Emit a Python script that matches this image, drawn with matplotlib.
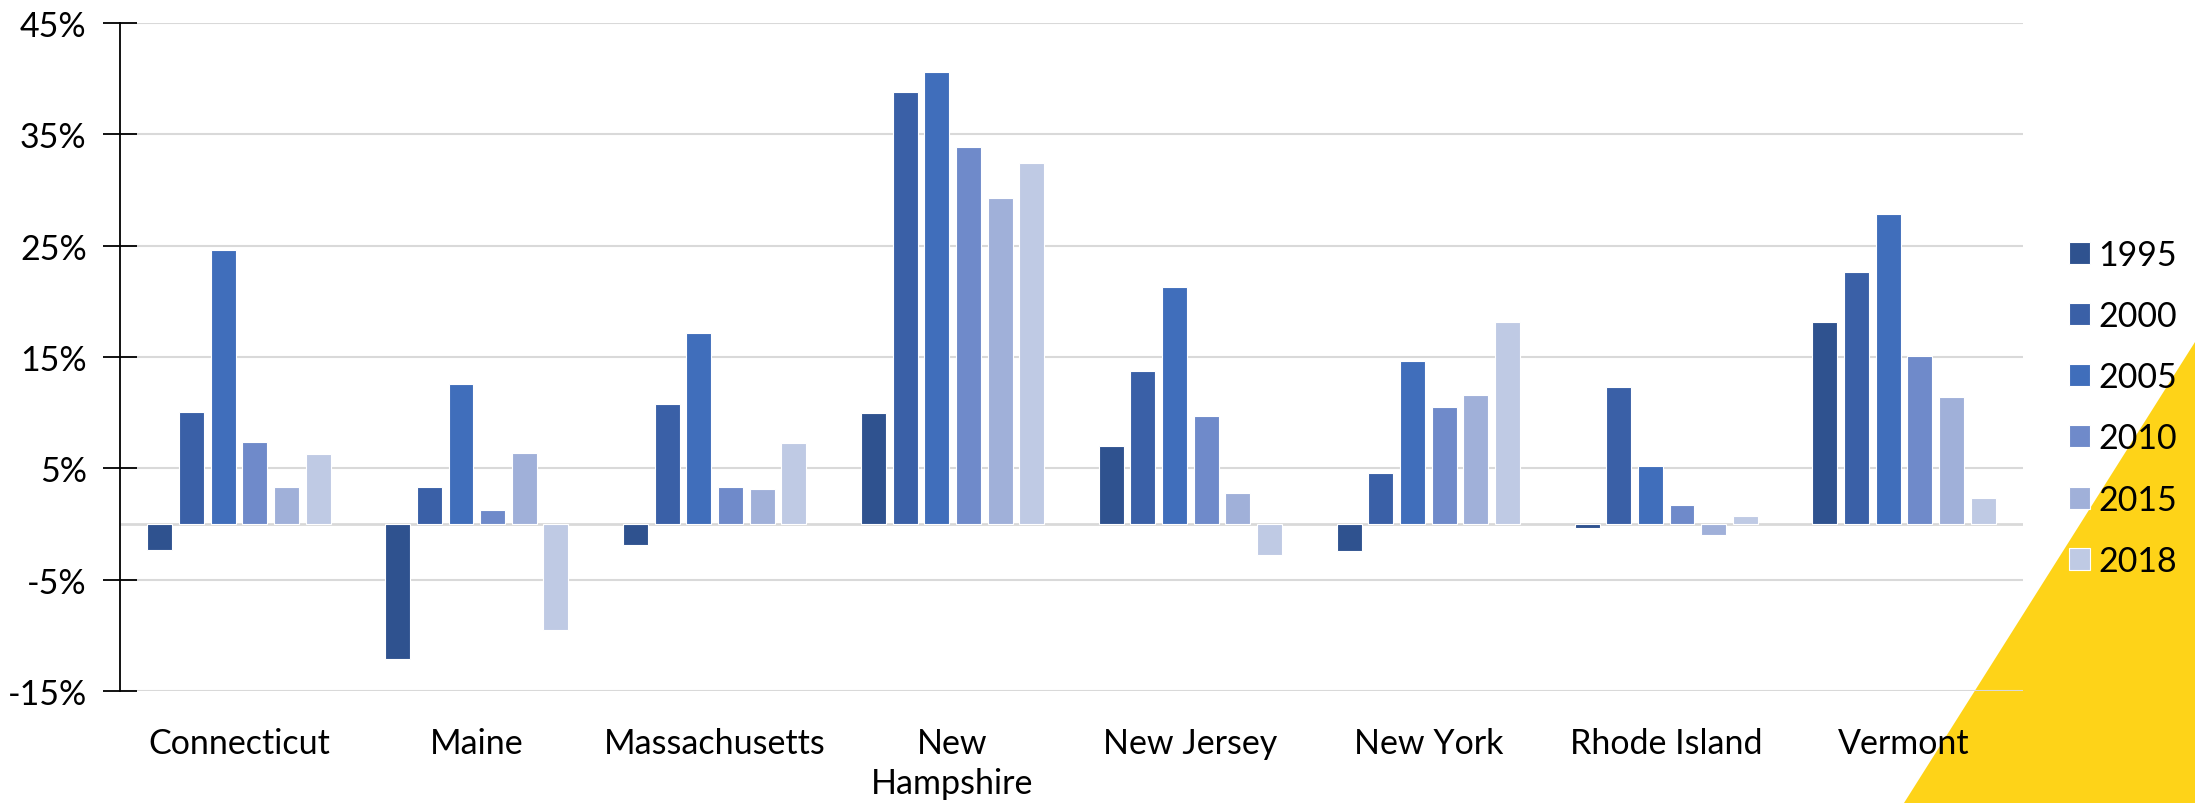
import numpy as np
import matplotlib
matplotlib.use("Agg")
from matplotlib import pyplot as plt
from matplotlib.patches import Polygon

plt.rcParams['font.family'] = ['Lato', 'DejaVu Sans']

states = ["Connecticut", "Maine", "Massachusetts", "New\nHampshire",
          "New Jersey", "New York", "Rhode Island", "Vermont"]
years = ["1995", "2000", "2005", "2010", "2015", "2018"]

# percent change per state, one list per year
v1995 = [-2.3, -12.1, -1.9, 10.0, 7.0, -2.4, -0.4, 18.1]
v2000 = [10.1, 3.3, 10.8, 38.8, 13.7, 4.6, 12.3, 22.6]
v2005 = [24.6, 12.6, 17.2, 40.6, 21.3, 14.6, 5.2, 27.8]
v2010 = [7.4, 1.3, 3.3, 33.9, 9.7, 10.5, 1.7, 15.1]
v2015 = [3.3, 6.4, 3.1, 29.3, 2.8, 11.6, -1.0, 11.4]
v2018 = [6.3, -9.5, 7.3, 32.4, -2.8, 18.1, 0.7, 2.3]

kolory = ["#2F528F", "#3A60A7", "#406EBB", "#6F8ACA", "#A0B0D9", "#BFCAE4"]

yticks = [-15, -5, 5, 15, 25, 35, 45]


def main():
    fig = plt.figure(figsize=(21.95, 8.04), dpi=100)

    # yellow corner in the bottom right, in its own axes behind everything
    tlo = fig.add_axes([0, 0, 1, 1], zorder=-10)
    tlo.set_xlim(0, 1)
    tlo.set_ylim(0, 1)
    tlo.axis("off")
    tlo.add_patch(Polygon([(1904 / 2195, 0), (1, 0), (1, 1 - 343 / 804)],
                          closed=True, facecolor="#FED318", edgecolor="none"))

    ax = fig.add_axes([120 / 2195, 1 - 692 / 804, (2023 - 120) / 2195, (692 - 24) / 804])
    ax.set_facecolor("none")

    serie = [v1995, v2000, v2005, v2010, v2015, v2018]
    x = np.arange(len(states))
    krok = 0.133
    szer = 0.105
    for i, (rok, wart) in enumerate(zip(years, serie)):
        przes = (i - 2.5) * krok
        ax.bar(x + przes, wart, width=szer, color=kolory[i], label=rok,
               edgecolor="white", linewidth=0.8, zorder=3)

    ax.set_xlim(-0.5, len(states) - 0.5)
    ax.set_ylim(-15, 45)
    ax.set_yticks(yticks)
    ax.set_yticklabels([f"{t}%" for t in yticks], fontsize=24.5)
    ax.set_xticks(x)
    ax.set_xticklabels(states, fontsize=24.5, linespacing=1.3)
    ax.tick_params(axis="x", length=0, pad=26)
    ax.tick_params(axis="y", direction="inout", length=24, width=1.3, pad=12)

    ax.yaxis.grid(True, color="#D9D9D9", linewidth=1.5, zorder=0)
    ax.set_axisbelow(True)
    ax.axhline(0, color="#D9D9D9", linewidth=2, zorder=2)

    for s in ["top", "right", "bottom"]:
        ax.spines[s].set_visible(False)
    ax.spines["left"].set_linewidth(1.3)
    ax.spines["left"].set_color("black")

    fig.legend(loc="upper left", bbox_to_anchor=(2055 / 2195, 1 - 226 / 804),
               frameon=False, fontsize=24.5, handlelength=0.62, handleheight=0.62,
               handletextpad=0.25, labelspacing=0.86, borderaxespad=0)

    fig.savefig("out.png", dpi=100)


if __name__ == "__main__":
    main()
